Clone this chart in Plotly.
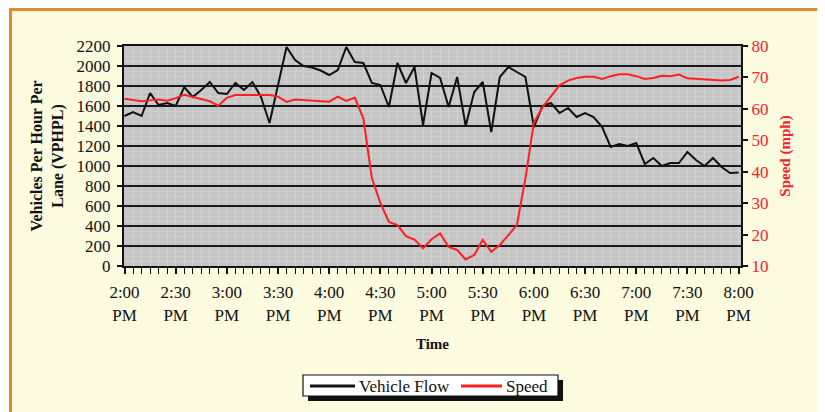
import plotly.graph_objects as go

# ---- data (5-minute intervals, 2:00 PM to 8:00 PM) ----
minutes = [5 * i for i in range(73)]

vehicle_flow = [
    1500, 1540, 1500, 1730, 1610, 1630, 1600, 1790, 1690, 1760,
    1840, 1730, 1720, 1830, 1760, 1840, 1690, 1430, 1810, 2190,
    2060, 2000, 1985, 1955, 1910, 1960, 2190, 2040, 2030, 1830,
    1810, 1590, 2030, 1830, 1990, 1410, 1930, 1880, 1590, 1890,
    1400, 1740, 1840, 1340, 1890, 1990, 1940, 1890, 1390, 1600,
    1630, 1530, 1580, 1490, 1530, 1490, 1390, 1190, 1220, 1200,
    1230, 1020, 1080, 1000, 1030, 1030, 1140, 1060, 1000, 1080,
    990, 930, 935,
]

speed = [
    63.2, 62.9, 62.4, 62.7, 63.0, 62.6, 63.4, 64.5, 63.8, 63.0,
    62.4, 61.0, 63.5, 64.4, 64.4, 64.2, 64.3, 64.4, 63.9, 62.2,
    63.0, 62.8, 62.5, 62.3, 62.3, 63.9, 62.5, 63.6, 57.0, 38.0,
    30.0, 24.0, 23.0, 19.5, 18.4, 15.6, 18.5, 20.4, 16.1, 15.1,
    12.1, 13.5, 18.3, 14.5, 16.7, 19.8, 23.0, 37.8, 55.6, 60.5,
    64.2, 67.5, 69.0, 69.8, 70.2, 70.2, 69.5, 70.4, 71.0, 71.0,
    70.4, 69.5, 69.8, 70.5, 70.4, 70.9, 69.7, 69.5, 69.3, 69.0,
    69.0, 69.2, 70.2,
]

tick_minutes = [0, 30, 60, 90, 120, 150, 180, 210, 240, 270, 300, 330, 360]
tick_labels = ["2:00<br>PM", "2:30<br>PM", "3:00<br>PM", "3:30<br>PM", "4:00<br>PM",
               "4:30<br>PM", "5:00<br>PM", "5:30<br>PM", "6:00<br>PM", "6:30<br>PM",
               "7:00<br>PM", "7:30<br>PM", "8:00<br>PM"]

flow_ticks = list(range(0, 2201, 200))
speed_ticks = list(range(10, 81, 10))

series_names = ["Vehicle Flow", "Speed"]

# ---- layout geometry (screen pixels; the page body adds an 8px offset) ----
W, H = 825, 412
OFF = 8
L, R, T, B = 124, 741, 46, 266
pw, ph = R - L, B - T

def px(x):
    return (x - L) / pw

def py(y):
    return (B - y) / ph

SERIF = "Liberation Serif, Times New Roman, serif"
RED_TXT = "#f5222d"
RED_LINE = "#ff1f1f"
BLACK = "#111111"
YELLOW = "#fcfadf"
ORANGE = "#e38a2c"

fig = go.Figure()
fig.add_trace(go.Scatter(x=minutes, y=vehicle_flow, name=series_names[0], mode="lines",
                         line=dict(color=BLACK, width=2), yaxis="y", showlegend=False))
fig.add_trace(go.Scatter(x=minutes, y=speed, name=series_names[1], mode="lines",
                         line=dict(color=RED_LINE, width=2), yaxis="y2", showlegend=False))

def prect(x0, x1, y0, y1, **kw):
    return dict(type="rect", xref="paper", yref="paper",
                x0=px(x0), x1=px(x1), y0=py(y1), y1=py(y0), **kw)

def pline(x0, x1, y, color, width):
    return dict(type="line", xref="paper", yref="paper",
                x0=px(x0), x1=px(x1), y0=py(y), y1=py(y),
                line=dict(color=color, width=width), layer="above")

shapes = [
    # white strips outside the orange frame
    prect(-20, 10, -20, 440, fillcolor="white", line=dict(width=0), layer="below"),
    prect(-20, 850, -20, 9, fillcolor="white", line=dict(width=0), layer="below"),
    prect(820, 850, -20, 440, fillcolor="white", line=dict(width=0), layer="below"),
    # orange frame
    prect(10.5, 819.5, 9.5, 425, fillcolor="rgba(0,0,0,0)",
          line=dict(color=ORANGE, width=3), layer="below"),
    # legend: shadow, box, samples
    prect(308, 563, 380, 401, fillcolor=BLACK, line=dict(width=0), layer="above"),
    prect(303, 558, 375, 396, fillcolor="white", line=dict(color=BLACK, width=1.2), layer="above"),
    pline(310, 355, 386, BLACK, 3),
    pline(461, 502, 386, RED_LINE, 3),
]

annotations = [
    dict(xref="paper", yref="paper", x=px(357), y=py(386), xanchor="left", yanchor="middle",
         text=series_names[0], showarrow=False, font=dict(family=SERIF, size=17, color=BLACK)),
    dict(xref="paper", yref="paper", x=px(504), y=py(386), xanchor="left", yanchor="middle",
         text=series_names[1], showarrow=False, font=dict(family=SERIF, size=17, color=BLACK)),
]

fig.update_layout(
    width=W, height=H,
    margin=dict(l=L - OFF, r=W - (R - OFF), t=T - OFF, b=H - (B - OFF), pad=0),
    paper_bgcolor=YELLOW,
    plot_bgcolor="#c4c4c4",
    font=dict(family=SERIF, size=17, color=BLACK),
    showlegend=False,
    xaxis=dict(
        range=[-0.3, 361.4],
        tickmode="array", tickvals=tick_minutes, ticktext=tick_labels,
        ticks="outside", ticklen=6, tickwidth=1.5, tickcolor=BLACK,
        ticklabelstandoff=4,
        tickfont=dict(family=SERIF, size=17, color=BLACK),
        showline=True, linecolor=BLACK, linewidth=2, mirror=True,
        showgrid=False, zeroline=False,
        minor=dict(dtick=5, tick0=0, ticks="outside", ticklen=6, tickwidth=1.2,
                   tickcolor=BLACK, showgrid=True, gridcolor="#d4d4d4", gridwidth=1),
        title=dict(text="<b>Time</b>", font=dict(family=SERIF, size=15, color=BLACK),
                   standoff=15),
    ),
    yaxis=dict(
        range=[0, 2200], tickvals=flow_ticks,
        ticks="outside", ticklen=5, tickwidth=1.5, tickcolor=BLACK,
        ticklabelstandoff=3,
        tickfont=dict(family=SERIF, size=17, color=BLACK),
        showline=True, linecolor=BLACK, linewidth=2,
        showgrid=True, gridcolor="#1a1a1a", gridwidth=1.6, zeroline=False,
        minor=dict(dtick=50, tick0=0, ticks="", showgrid=True, gridcolor="#d0d0d0", gridwidth=1),
        title=dict(text="<b>Vehicles Per Hour Per<br>Lane (VPHPL)</b>",
                   font=dict(family=SERIF, size=16, color=BLACK), standoff=9),
    ),
    yaxis2=dict(
        range=[10, 80], tickvals=speed_ticks, overlaying="y", side="right",
        ticks="outside", ticklen=5, tickwidth=1.5, tickcolor=BLACK,
        tickfont=dict(family=SERIF, size=17, color=RED_TXT),
        showline=True, linecolor=BLACK, linewidth=2,
        showgrid=False, zeroline=False,
        title=dict(text="<b>Speed (mph)</b>", font=dict(family=SERIF, size=15, color=RED_TXT),
                   standoff=12),
    ),
    shapes=shapes,
    annotations=annotations,
)

fig.write_html("out.html")
